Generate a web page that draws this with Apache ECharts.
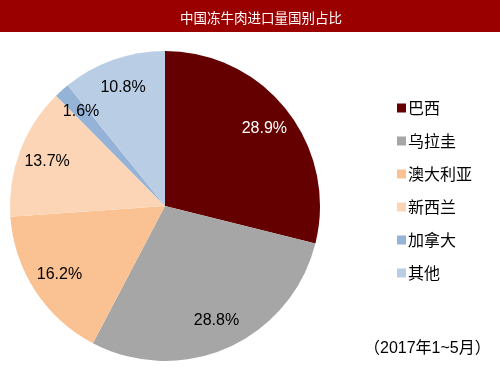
<!DOCTYPE html>
<html><head><meta charset="utf-8">
<script src="https://cdn.jsdelivr.net/npm/echarts@6/dist/echarts.min.js"></script>
<style>html,body{margin:0;padding:0;background:#fff}#c{width:500px;height:375px}</style>
</head><body><div id="c"></div>
<script>
const categories = ['巴西','乌拉圭','澳大利亚','新西兰','加拿大','其他'];
const shares = [28.9, 28.8, 16.2, 13.7, 1.6, 10.8];
const colors = ['#640000','#a6a6a6','#fac192','#fcd5b6','#95b3d7','#b9cde5'];
const labelColors = ['#ffffff','#000000','#000000','#000000','#000000','#000000'];
const titleText = '中国冻牛肉进口量国别占比';
const noteText = '（2017年1~5月）';

const chart = echarts.init(document.getElementById('c'), null, {renderer:'canvas'});
const mainData = categories.map((n,i)=>({name:n, value:shares[i], itemStyle:{color:colors[i]}}));
const labelData = categories.map((n,i)=>({name:n, value:shares[i], itemStyle:{color:'rgba(0,0,0,0)'},
  label:{color:labelColors[i]}}));
chart.setOption({
  animation:false,
  graphic:[
    {type:'rect', shape:{x:0,y:0,width:500,height:32}, style:{fill:'#9b0000'}, z:-1},
    {type:'text', left:364, top:341, style:{text:noteText, font:'16px "Liberation Sans", "Noto Sans CJK SC", sans-serif', fill:'#000'}}
  ],
  title:{text:titleText, left:175, top:6, textStyle:{color:'#fff', fontSize:13.5, fontWeight:'normal', fontFamily:'"Noto Sans CJK SC", sans-serif'}},
  legend:{
    orient:'vertical', left:392, top:94, itemWidth:9, itemHeight:9, itemGap:15, icon:'rect',
    data:categories,
    textStyle:{fontSize:16, lineHeight:18, color:'#000', fontFamily:'"Noto Sans CJK SC", sans-serif', padding:[0,0,0,-3]}
  },
  series:[
    {type:'pie', center:[165,206], radius:[0,155], startAngle:90, clockwise:true,
     data:mainData, label:{show:false}, labelLine:{show:false}, silent:true},
    {type:'pie', center:[165,206], radius:[0,246], startAngle:90, clockwise:true,
     data:labelData, silent:true, labelLine:{show:false},
     label:{show:true, position:'inside', formatter:p=>p.value.toFixed(1)+'%', fontSize:16,
       fontFamily:'"Liberation Sans", Arial, sans-serif'}}
  ]
});
</script></body></html>
